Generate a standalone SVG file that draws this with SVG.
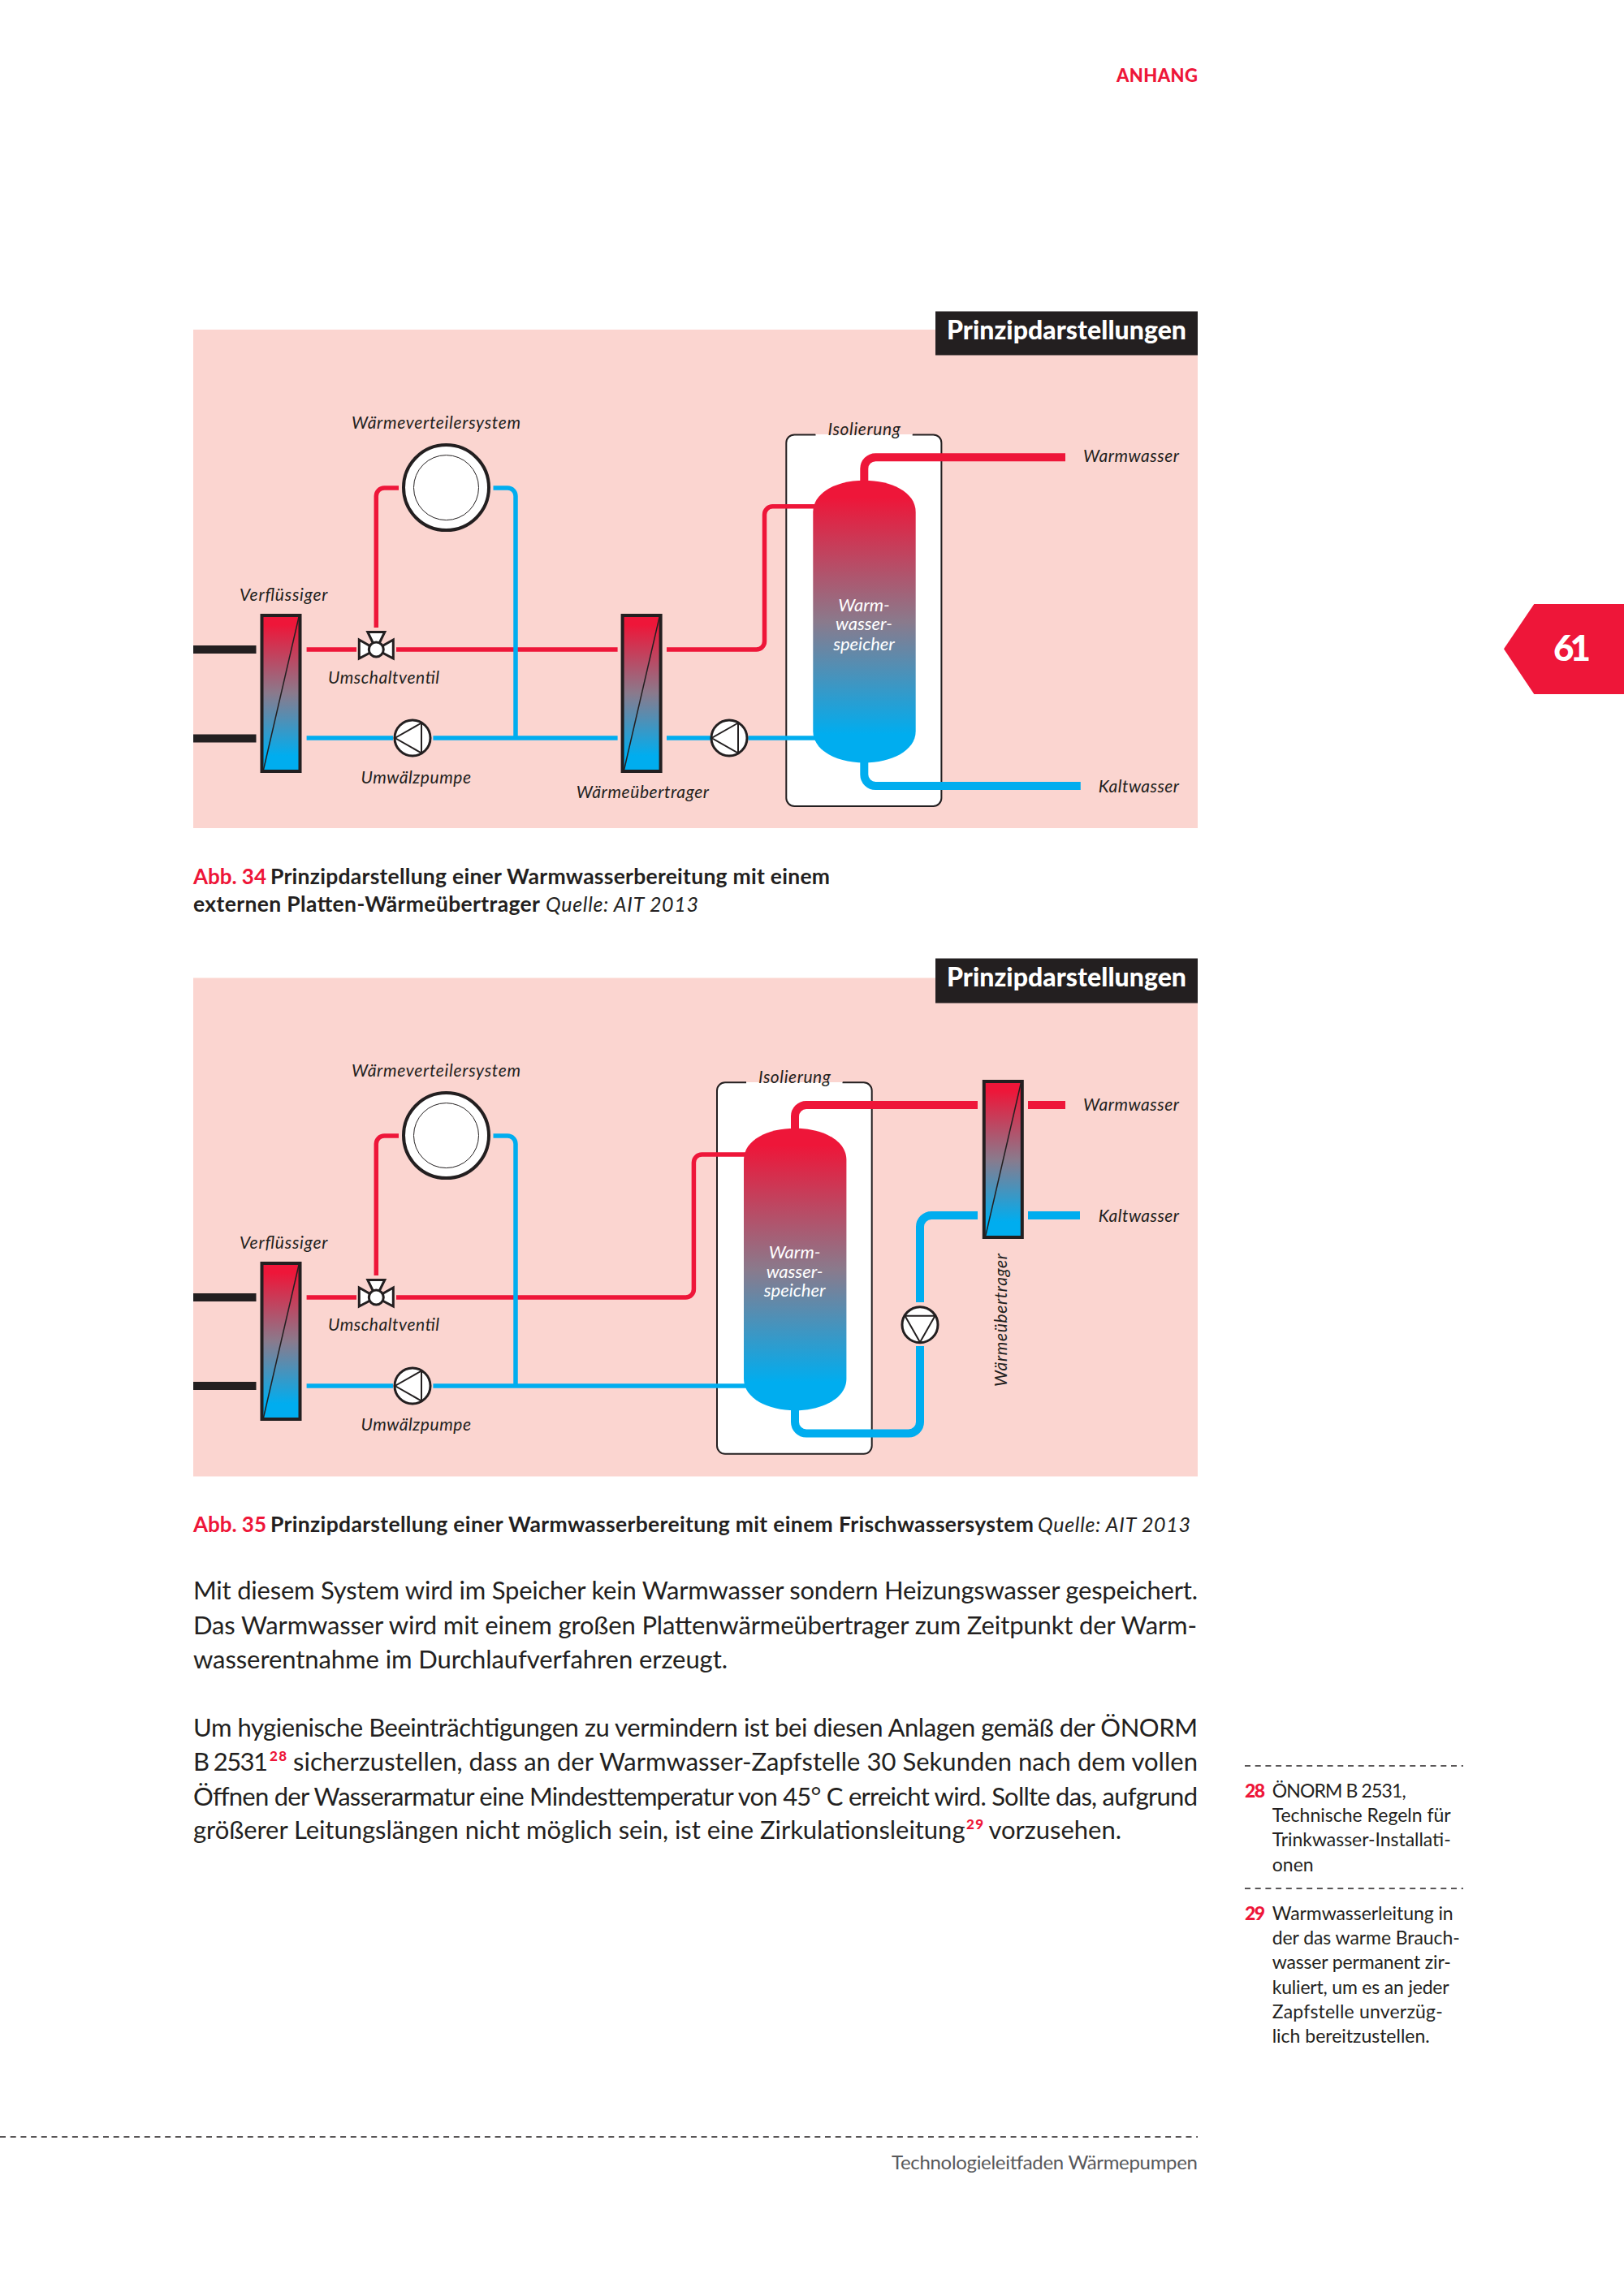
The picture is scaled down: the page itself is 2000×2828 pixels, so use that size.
<svg xmlns="http://www.w3.org/2000/svg" xmlns:xlink="http://www.w3.org/1999/xlink" width="2000" height="2828" viewBox="0 0 2000 2828">
<style>
text{font-family:"Lato","Noto Sans",sans-serif;fill:#231f20}
.lab{font-size:21px;font-style:italic}
.wh{fill:#fff;text-anchor:middle;font-size:22px}
.hd{font-size:32px;font-weight:900;fill:#fff}
.cap{font-size:26.500px;font-weight:700}
.capi{font-size:25px;font-style:italic}
.abb{font-size:26px;font-weight:700;fill:#ee1639}
.body{font-size:31px}
.sup{font-size:17px;font-weight:900;fill:#ee1639}
.fn{font-size:23px}
.fnn{font-size:23px;font-weight:900;fill:#ee1639}
.panel{fill:#fbd5d0}
.r{fill:none;stroke:#ee1639;stroke-width:5.5}
.b{fill:none;stroke:#00adef;stroke-width:5.5}
.r2{fill:none;stroke:#ee1639;stroke-width:10}
.b2{fill:none;stroke:#00adef;stroke-width:10}
.bar{fill:#231f20}
.hx{fill:url(#g);stroke:#231f20;stroke-width:4}
.dg{stroke:#231f20;stroke-width:1.5;fill:none}
.sym{fill:#fff;stroke:#231f20;stroke-width:3}
.thin{fill:none;stroke:#231f20;stroke-width:2}
.ins{fill:#fff}
.dash{stroke:#231f20;stroke-width:1.5;stroke-dasharray:7 5.7;fill:none}
</style>
<defs>
<linearGradient id="g" x1="0" y1="0" x2="0" y2="1">
<stop offset="0.06" stop-color="#ee1639"/><stop offset="0.5" stop-color="#8a7a8c"/><stop offset="0.9" stop-color="#00adef"/>
</linearGradient>
<g id="hxs">
<rect class="hx" x="2" y="2" width="47" height="192"/>
<path class="dg" d="M47.500 4 L4 192"/>
</g>
<g id="valve">
<path class="sym" d="M-21 -12 L0 0 L-21 11 Z M21 -12 L0 0 L21 11 Z M-10.500 -21.500 H10.500 L0 0 Z"/>
<circle class="sym" cx="0" cy="0" r="9"/>
</g>
<g id="pump">
<circle class="sym" cx="0" cy="0" r="22"/>
<path class="thin" d="M11 -18.500 L-21.500 0 L11 18.500 Z"/>
</g>
<g id="radiator">
<circle cx="0" cy="0" r="52.500" fill="#fff" stroke="#231f20" stroke-width="4"/>
<circle cx="0" cy="0" r="40" fill="none" stroke="#231f20" stroke-width="1"/>
</g>
<path id="tank" fill="url(#g)" d="M0 39 C0 14 30 0 63 0 C96 0 126.400 14 126.400 39 V308.600 C126.400 333 96 347.600 63 347.600 C30 347.600 0 333 0 308.600 Z"/>
</defs>

<g id="header"><text x="1375" y="101" font-size="22" font-weight="900" style="fill:#ee1639" textLength="100">ANHANG</text></g>
<g id="page-tab"><path d="M2000 744 H1889.300 L1852 799.300 L1889.300 855 H2000 Z" fill="#ee1639"/><text x="1913" y="814" font-size="44" font-weight="900" style="fill:#fff" textLength="46">61</text></g>

<g id="diagram-34">
<rect class="panel" x="238" y="406" width="1237" height="614"/>
<g id="title-34"><rect x="1152" y="383.500" width="323" height="54" fill="#231f20"/><text class="hd" x="1166" y="418" textLength="295">Prinzipdarstellungen</text></g>
<g id="isolierung-34">
<path class="ins" d="M968.300 545 a10 10 0 0 1 10 -10 H1149.400 a10 10 0 0 1 10 10 V983 a10 10 0 0 1 -10 10 H978.300 a10 10 0 0 1 -10 -10 Z"/>
<path class="thin" d="M1004.500 535.400 H978.300 a10 10 0 0 0 -10 10 V983 a10 10 0 0 0 10 10 H1149.400 a10 10 0 0 0 10 -10 V545.400 a10 10 0 0 0 -10 -10 H1123.700"/>
<rect x="1004.500" y="520" width="119.200" height="15" class="panel"/>
<text class="lab" x="1019.600" y="536" textLength="89.400">Isolierung</text>
</g>
<g id="connectors-34">
<path class="r" d="M377.600 800 H439 M488 800 H760.600"/>
<path class="r" d="M491 601 H473.300 a10 10 0 0 0 -10 10 V773"/>
<path class="r" d="M821 800 H931.500 a10 10 0 0 0 10 -10 V633.800 a10 10 0 0 1 10 -10 H1005"/>
<path class="b" d="M607.500 601 H625 a10 10 0 0 1 10 10 V909"/>
<path class="b" d="M377.600 909 H484 M533.400 909 H760.600 M821 909 H876 M921.400 909 H1005"/>
<path class="r2" d="M1312 563.200 H1078.300 a14 14 0 0 0 -14 14 V600"/>
<path class="b2" d="M1330.800 968 H1078.300 a14 14 0 0 1 -14 -14 V930"/>
</g>
<g id="verfluessiger-34"><rect class="bar" x="238" y="795" width="77.500" height="10"/><rect class="bar" x="238" y="904.500" width="77.500" height="10"/><use xlink:href="#hxs" x="320.500" y="756"/><text class="lab" x="295" y="740" textLength="108.500">Verflüssiger</text></g>
<g id="radiator-34"><use xlink:href="#radiator" x="549.500" y="600.600"/><text class="lab" x="433" y="528" textLength="208">Wärmeverteilersystem</text></g>
<g id="valve-34"><use xlink:href="#valve" x="463.300" y="800"/><text class="lab" x="404" y="842" textLength="137">Umschaltventil</text></g>
<g id="pump-34a"><use xlink:href="#pump" x="508" y="909"/><text class="lab" x="444.500" y="965" textLength="135.500">Umwälzpumpe</text></g>
<g id="hx-34"><use xlink:href="#hxs" x="764.600" y="756"/><text class="lab" x="709.700" y="983" textLength="163.300">Wärmeübertrager</text></g>
<g id="pump-34b"><use xlink:href="#pump" x="898" y="909"/></g>
<g id="tank-34"><use xlink:href="#tank" x="1001.300" y="591.800"/>
<text class="lab wh" style="fill:#fff" x="1064" y="753">Warm-</text><text class="lab wh" style="fill:#fff" x="1064" y="776">wasser-</text><text class="lab wh" style="fill:#fff" x="1064" y="800.500">speicher</text></g>
<text class="lab" x="1334" y="569" textLength="118">Warmwasser</text>
<text class="lab" x="1352.700" y="976" textLength="99.300">Kaltwasser</text>
</g>

<g id="caption-34">
<text class="abb" x="238" y="1088.500" textLength="90">Abb. 34</text>
<text class="cap" x="333" y="1088.500" textLength="689">Prinzipdarstellung einer Warmwasserbereitung mit einem</text>
<text class="cap" x="238" y="1122.500" textLength="427">externen Platten-Wärmeübertrager</text>
<text class="capi" x="672" y="1122.500" textLength="188">Quelle: AIT 2013</text>
</g>

<g id="diagram-35">
<rect class="panel" x="238" y="1204.500" width="1237" height="614"/>
<g id="title-35"><rect x="1152" y="1180.500" width="323" height="55" fill="#231f20"/><text class="hd" x="1166" y="1215" textLength="295">Prinzipdarstellungen</text></g>
<g id="isolierung-35">
<path class="ins" d="M883 1343 a10 10 0 0 1 10 -10 H1063.700 a10 10 0 0 1 10 10 V1781 a10 10 0 0 1 -10 10 H893 a10 10 0 0 1 -10 -10 Z"/>
<path class="thin" d="M919 1333.300 H893 a10 10 0 0 0 -10 10 V1780.800 a10 10 0 0 0 10 10 H1063.700 a10 10 0 0 0 10 -10 V1343.300 a10 10 0 0 0 -10 -10 H1037.500"/>
<rect x="919" y="1318" width="118.500" height="15" class="panel"/>
<text class="lab" x="934" y="1334" textLength="89">Isolierung</text>
</g>
<g id="connectors-35">
<path class="r" d="M377.600 1598 H439 M488 1598 H844.400 a10 10 0 0 0 10 -10 V1432 a10 10 0 0 1 10 -10 H920"/>
<path class="r" d="M491 1399 H473.300 a10 10 0 0 0 -10 10 V1571"/>
<path class="b" d="M607.500 1399 H625 a10 10 0 0 1 10 10 V1707"/>
<path class="b" d="M377.600 1707 H484 M533.400 1707 H920"/>
<path class="r2" d="M1204 1361 H993 a14 14 0 0 0 -14 14 V1398"/>
<path class="r2" d="M1266 1361 H1312"/>
<path class="b2" d="M1204 1497 H1147 a14 14 0 0 0 -14 14 V1604 M1133 1658 V1751.500 a14 14 0 0 1 -14 14 H993 a14 14 0 0 1 -14 -14 V1730"/>
<path class="b2" d="M1266 1497 H1330"/>
</g>
<g id="verfluessiger-35"><rect class="bar" x="238" y="1593" width="77.500" height="10"/><rect class="bar" x="238" y="1702" width="77.500" height="10"/><use xlink:href="#hxs" x="320.500" y="1554"/><text class="lab" x="295" y="1538" textLength="108.500">Verflüssiger</text></g>
<g id="radiator-35"><use xlink:href="#radiator" x="549.500" y="1398.600"/><text class="lab" x="433" y="1326" textLength="208">Wärmeverteilersystem</text></g>
<g id="valve-35"><use xlink:href="#valve" x="463.300" y="1598"/><text class="lab" x="404" y="1639" textLength="137">Umschaltventil</text></g>
<g id="pump-35a"><use xlink:href="#pump" x="508" y="1707"/><text class="lab" x="444.500" y="1762" textLength="135.500">Umwälzpumpe</text></g>
<g id="tank-35"><use xlink:href="#tank" x="916" y="1389.700"/>
<text class="lab wh" style="fill:#fff" x="978.600" y="1550">Warm-</text><text class="lab wh" style="fill:#fff" x="978.600" y="1574">wasser-</text><text class="lab wh" style="fill:#fff" x="978.600" y="1597">speicher</text></g>
<g id="hx-35"><use xlink:href="#hxs" x="1209.800" y="1330"/><text class="lab" transform="translate(1239.700 1708) rotate(-90)" textLength="164">Wärmeübertrager</text></g>
<g id="pump-35b"><use xlink:href="#pump" transform="translate(1133 1631.700) rotate(-90)"/></g>
<text class="lab" x="1334" y="1367.500" textLength="118">Warmwasser</text>
<text class="lab" x="1352.700" y="1504.600" textLength="99.300">Kaltwasser</text>
</g>

<g id="caption-35">
<text class="abb" x="238" y="1886.500" textLength="90">Abb. 35</text>
<text class="cap" x="333" y="1886.500" textLength="940">Prinzipdarstellung einer Warmwasserbereitung mit einem Frischwassersystem</text>
<text class="capi" x="1278" y="1886.500" textLength="188">Quelle: AIT 2013</text>
</g>

<g id="body">
<text class="body" x="238" y="1970" textLength="1237">Mit diesem System wird im Speicher kein Warmwasser sondern Heizungswasser gespeichert.</text>
<text class="body" x="238" y="2013" textLength="1236">Das Warmwasser wird mit einem großen Plattenwärmeübertrager zum Zeitpunkt der Warm-</text>
<text class="body" x="238" y="2054.700" textLength="658">wasserentnahme im Durchlaufverfahren erzeugt.</text>
<text class="body" x="238" y="2138.700" textLength="1237">Um hygienische Beeinträchtigungen zu vermindern ist bei diesen Anlagen gemäß der ÖNORM</text>
<text class="body" x="238" y="2181" textLength="92">B 2531</text>
<text class="sup" x="332" y="2169" textLength="21">28</text>
<text class="body" x="361" y="2181" textLength="1114">sicherzustellen, dass an der Warmwasser-Zapfstelle 30 Sekunden nach dem vollen</text>
<text class="body" x="238" y="2223.700" textLength="1237">Öffnen der Wasserarmatur eine Mindesttemperatur von 45° C erreicht wird. Sollte das, aufgrund</text>
<text class="body" x="238" y="2265" textLength="950.500">größerer Leitungslängen nicht möglich sein, ist eine Zirkulationsleitung</text>
<text class="sup" x="1190" y="2253" textLength="21">29</text>
<text class="body" x="1217.500" y="2265" textLength="163.500">vorzusehen.</text>
</g>

<g id="footnotes">
<path class="dash" d="M1533 2175 H1802 M1533 2326 H1802"/>
<text class="fnn" x="1533" y="2213.500" textLength="25">28</text>
<text class="fn" x="1566.700" y="2213.500" textLength="165">ÖNORM B 2531,</text>
<text class="fn" x="1566.700" y="2243.500" textLength="220">Technische Regeln für</text>
<text class="fn" x="1566.700" y="2274" textLength="220">Trinkwasser-Installati-</text>
<text class="fn" x="1566.700" y="2304.500" textLength="51">onen</text>
<text class="fnn" x="1533" y="2364.500" textLength="25">29</text>
<text class="fn" x="1566.700" y="2364.500" textLength="223">Warmwasserleitung in</text>
<text class="fn" x="1566.700" y="2394.500" textLength="231">der das warme Brauch-</text>
<text class="fn" x="1566.700" y="2425" textLength="220">wasser permanent zir-</text>
<text class="fn" x="1566.700" y="2455.500" textLength="218">kuliert, um es an jeder</text>
<text class="fn" x="1566.700" y="2485.500" textLength="210">Zapfstelle unverzüg-</text>
<text class="fn" x="1566.700" y="2515.500" textLength="194">lich bereitzustellen.</text>
</g>

<g id="footer">
<path class="dash" d="M0 2632 H1475"/>
<text x="1098" y="2672" font-size="24" style="fill:#58595b" textLength="377">Technologieleitfaden Wärmepumpen</text>
</g>
</svg>
